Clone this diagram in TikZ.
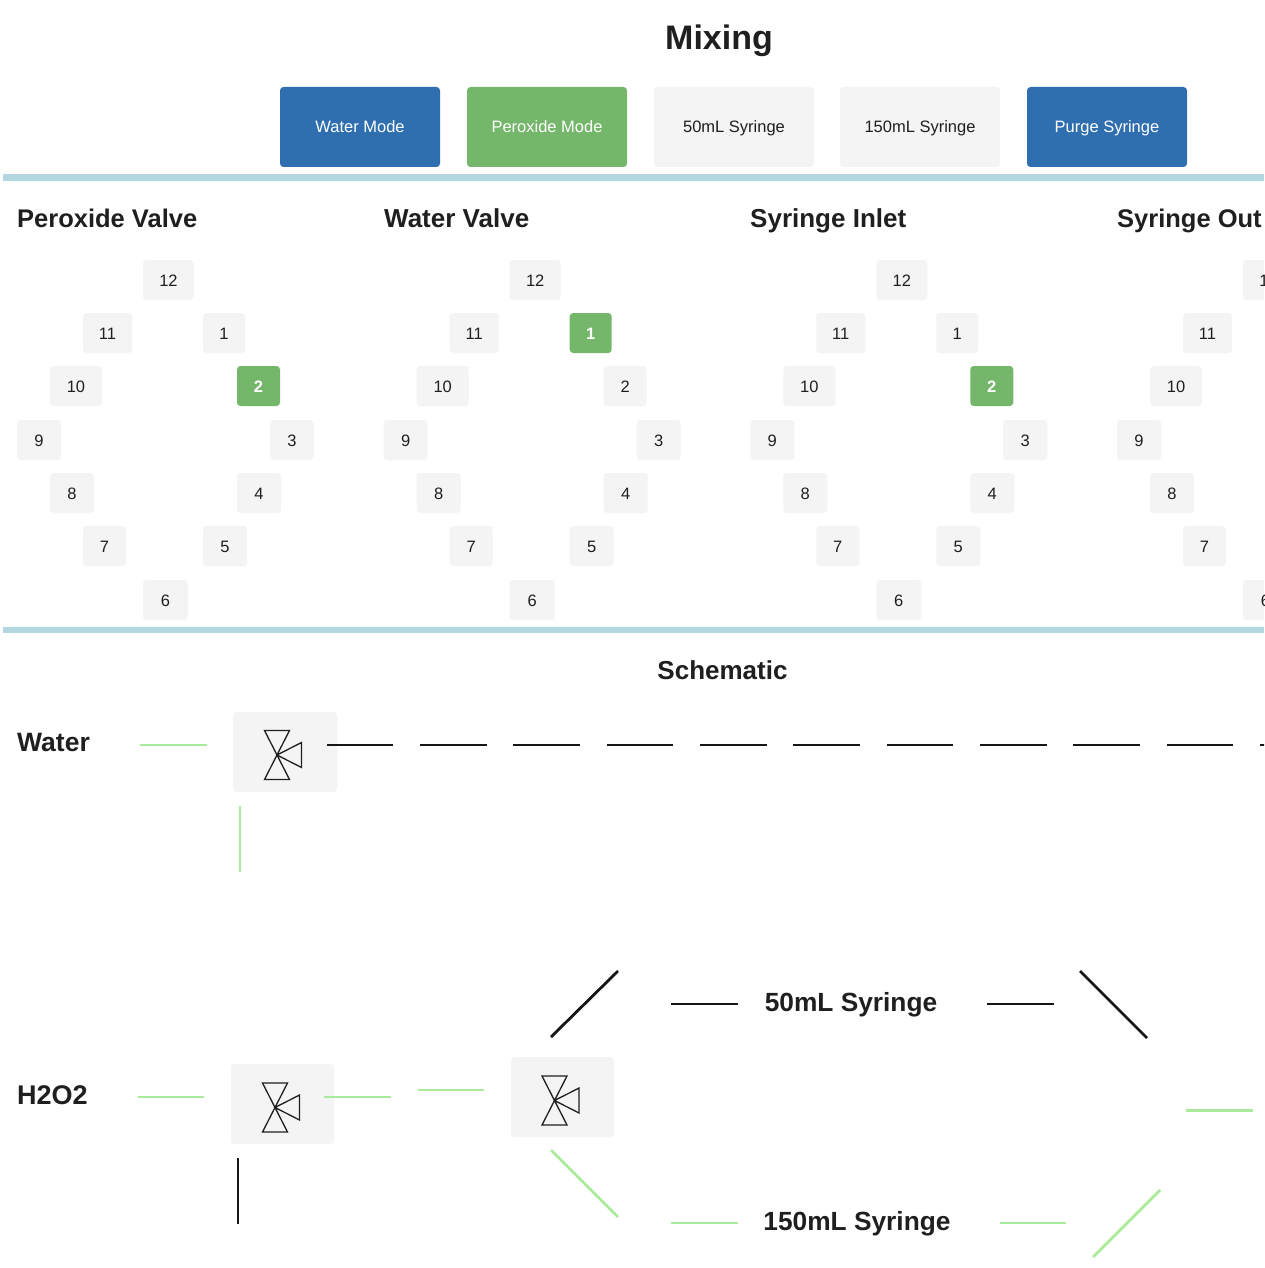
\documentclass[tikz,border=0pt]{standalone}
\usepackage{fontspec}
\setmainfont{Liberation Sans}
\definecolor{ink}{HTML}{1F1F1F}
\definecolor{rulec}{HTML}{B3D7E3}
\definecolor{soft}{HTML}{F4F4F4}
\definecolor{bluebtn}{HTML}{2F6FB0}
\definecolor{greenbtn}{HTML}{74B76A}
\definecolor{pipeon}{HTML}{A9EB9A}
\definecolor{pipeoff}{HTML}{161616}
\newcommand{\fs}[1]{\fontsize{#1}{#1}\selectfont}
\tikzset{
  x=1pt,y=-1pt,
  box/.style={rectangle,rounded corners=3.5pt,inner sep=0pt,text=ink},
  btn/.style={box,minimum width=160pt,minimum height=80pt,text height=12pt,text depth=0pt,font=\fs{16.5}},
  softbtn/.style={btn,fill=soft},
  bluebox/.style={btn,fill=bluebtn,text=white},
  greenbox/.style={btn,fill=greenbtn,text=white},
  port/.style={box,fill=soft,minimum height=40pt,text height=12pt,text depth=0pt,font=\fs{16.5}},
  porton/.style={box,fill=greenbtn,text=white,minimum height=40pt,text height=12pt,text depth=0pt,font=\bfseries\fs{16.5}},
  valvebox/.style={box,fill=soft,minimum height=80pt},
  heading/.style={font=\bfseries\fs{26},text=ink,inner sep=0pt},
  pipeg/.style={draw=pipeon,line width=2.8pt},
  pipek/.style={draw=pipeoff,line width=2.8pt},
  divider/.style={fill=rulec,draw=none},
  valve/.pic={
    \draw[line width=1.3pt,draw=ink,line join=miter]
      (0,0) -- (-12.5,-24.5) -- (12.5,-24.5) -- cycle
      (0,0) -- (-12.5,24.5) -- (12.5,24.5) -- cycle
      (0,0) -- (24.5,-12.5) -- (24.5,12.5) -- cycle;
  }
}
% name, style, start, end
\newcommand{\seg}[4]{\coordinate (#1a) at (#3); \coordinate (#1b) at (#4); \draw[#2] (#1a) -- (#1b);}
\newcommand{\pb}[7]{% prefix, offset, active, label, left, right, centre y
  \pgfmathsetmacro{\cxx}{#2+(#5+#6)/2}\pgfmathsetmacro{\wdd}{#6-#5}
  \ifnum#3=#4\relax
    \node[porton,minimum width=\wdd pt] (#1#4) at (\cxx,#7) {#4};
  \else
    \node[port,minimum width=\wdd pt] (#1#4) at (\cxx,#7) {#4};
  \fi}
\newcommand{\valvegrid}[3]{%
  \pb{#1}{#2}{#3}{12}{143}{194}{280}
  \pb{#1}{#2}{#3}{11}{83}{132}{333}
  \pb{#1}{#2}{#3}{1}{203}{245}{333}
  \pb{#1}{#2}{#3}{10}{50}{102}{386}
  \pb{#1}{#2}{#3}{2}{237}{280}{386}
  \pb{#1}{#2}{#3}{9}{17}{61}{440}
  \pb{#1}{#2}{#3}{3}{270}{314}{440}
  \pb{#1}{#2}{#3}{8}{50}{94}{493}
  \pb{#1}{#2}{#3}{4}{237}{281}{493}
  \pb{#1}{#2}{#3}{7}{83}{126}{546}
  \pb{#1}{#2}{#3}{5}{203}{247}{546}
  \pb{#1}{#2}{#3}{6}{143}{188}{600}
}
\begin{document}
\begin{tikzpicture}
\useasboundingbox (0,0) rectangle (1264,1268);
\clip (0,0) rectangle (1264,1268);
\fill[white] (0,0) rectangle (1264,1268);

\node[font=\bfseries\fs{34},text=ink,inner sep=0pt,anchor=base] (title) at (719,50) {Mixing};

\node[bluebox] (bwater) at (360,127) {Water Mode};
\node[greenbox] (bperox) at (547,127) {Peroxide Mode};
\node[softbtn] (b50) at (734,127) {50mL Syringe};
\node[softbtn] (b150) at (920,127) {150mL Syringe};
\node[bluebox] (bpurge) at (1107,127) {Purge Syringe};

\fill[divider] (3,174) rectangle (1264,181);
\fill[divider] (3,626.5) rectangle (1264,633);

\node[heading,font=\bfseries\fs{25.5},anchor=base west] (hp) at (17,227) {Peroxide Valve};
\node[heading,anchor=base west] (hw) at (384,227) {Water Valve};
\node[heading,anchor=base west] (hi) at (750,227) {Syringe Inlet};
\node[heading,font=\bfseries\fs{25.5},anchor=base west] (ho) at (1117,227) {Syringe Out};

\valvegrid{p}{0}{2}
\valvegrid{w}{366.7}{1}
\valvegrid{i}{733.3}{2}
\valvegrid{o}{1100}{0}

\node[heading] (schem) at (722.5,670) {Schematic};
\node[heading,font=\bfseries\fs{26.5},anchor=base west] (lwater) at (17,751) {Water};
\node[heading,font=\bfseries\fs{27},anchor=base west] (lh2o2) at (17,1104) {H2O2};
\node[heading,font=\bfseries\fs{26.3},anchor=base] (l50) at (851,1011) {50mL Syringe};
\node[heading,font=\bfseries\fs{26.3},anchor=base] (l150) at (857,1230) {150mL Syringe};

\node[valvebox,minimum width=104pt] (v1) at (285,752) {};
\node[valvebox,minimum width=103pt] (v2) at (282.5,1104) {};
\node[valvebox,minimum width=103pt] (v3) at (562.5,1097) {};
\pic at ([shift={(-8,3)}]v1.center) {valve};
\pic at ([shift={(-7.5,3.5)}]v2.center) {valve};
\pic at ([shift={(-8,3.5)}]v3.center) {valve};

\seg{g1}{pipeg}{140,745}{207,745}
\seg{g2}{pipeg}{240,806}{240,872}
\seg{k1}{pipek}{327,745}{393,745}
\seg{k2}{pipek}{420,745}{487,745}
\seg{k3}{pipek}{513,745}{580,745}
\seg{k4}{pipek}{607,745}{673,745}
\seg{k5}{pipek}{700,745}{767,745}
\seg{k6}{pipek}{793,745}{860,745}
\seg{k7}{pipek}{887,745}{953,745}
\seg{k8}{pipek}{980,745}{1047,745}
\seg{k9}{pipek}{1073,745}{1140,745}
\seg{k10}{pipek}{1167,745}{1233,745}
\seg{k11}{pipek}{1260,745}{1327,745}

\seg{g3}{pipeg}{138,1097}{204,1097}
\seg{g4}{pipeg}{324,1097}{391,1097}
\seg{g5}{pipeg}{418,1090}{484,1090}
\seg{k12}{pipek}{238,1158}{238,1224}
\seg{k13}{pipek}{551,1037}{618,971}
\seg{g6}{pipeg}{551,1150}{618,1217}
\seg{k14}{pipek}{671,1004}{738,1004}
\seg{k15}{pipek}{987,1004}{1054,1004}
\seg{k16}{pipek}{1080,971}{1147,1038}
\seg{g7}{pipeg}{1186,1110.5}{1253,1110.5}
\seg{g8}{pipeg}{671,1223}{738,1223}
\seg{g9}{pipeg}{1000,1223}{1066,1223}
\seg{g10}{pipeg}{1093,1257}{1160,1190}
\end{tikzpicture}
\end{document}
